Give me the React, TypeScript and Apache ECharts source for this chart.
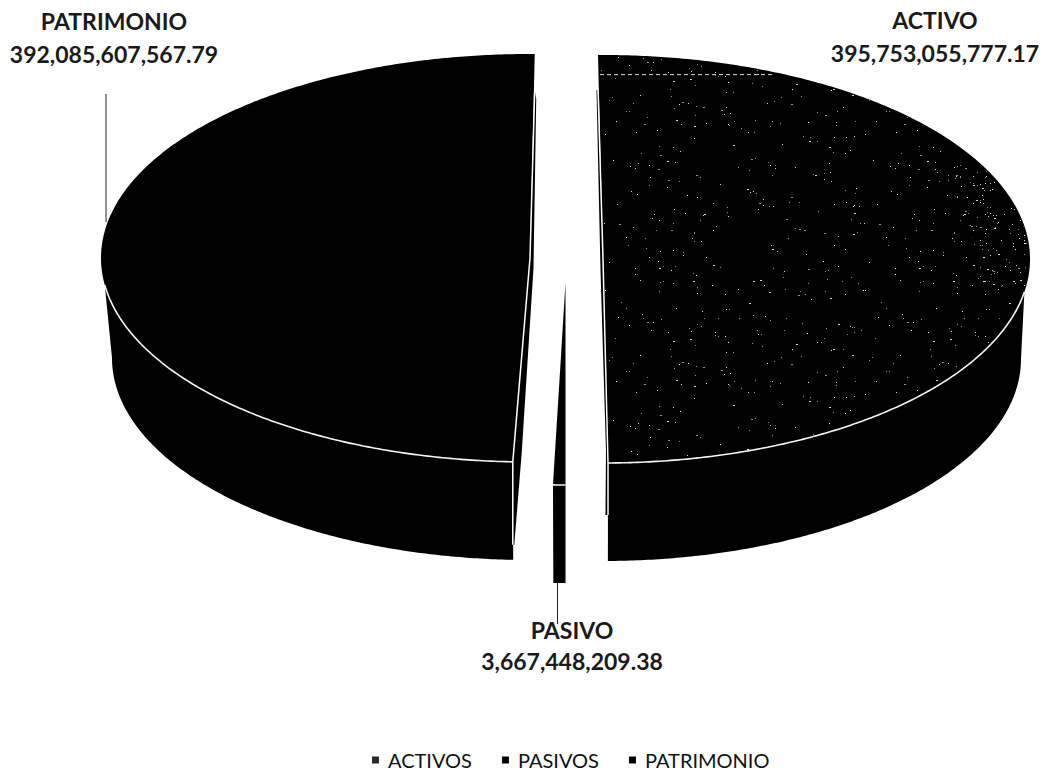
import React, { useEffect, useRef } from "react";
import * as echarts from "echarts";

const legendNames = ["ACTIVOS", "PASIVOS", "PATRIMONIO"];
const labelNames = ["ACTIVO", "PASIVO", "PATRIMONIO"];
const values = [395753055777.17, 3667448209.38, 392085607567.79];

const FONT = "Lato, Carlito, Calibri, sans-serif";
const total = values.reduce((a, b) => a + b, 0);

// Geometry of each exploded slice (layout only, sweep comes from the values)
const layouts = [
  {
    cx: 603, cy: 259, rx: 427, ry: 204, lowCy: 359, lowRx: 418, lowRy: 202, start: -0.67,
    frontAt: "end", far: 99.3, lowFar: 90, wallDepth: 52, topInset: 35,
    wall: [[-1.5, 35, "T"], [-2.5, 11, "A"], [-2, -12, "F"], [-2.5, 52, "F"], [0, 52, "F"], [0, 0, "F"], [0, 0, "A"], [0, 35, "T"]],
    labelX: 935, labelY: 20, lineGap: 33, leader: null,
  },
  {
    cx: 565.5, cy: 283, rx: 430, ry: 202, lowCy: 383, lowRx: 418, lowRy: 200, start: 180,
    frontAt: "both", far: 0, lowFar: 0, wallDepth: 0, topInset: 0, wall: null,
    labelX: 572, labelY: 630, lineGap: 31, leader: [[557.5, 583], [557.5, 624]],
  },
  {
    cx: 530, cy: 258, rx: 429, ry: 204, lowCy: 358, lowRx: 418, lowRy: 202, start: 182.3,
    frontAt: "start", far: 262.4, lowFar: 270, wallDepth: 83, topInset: 36,
    wall: [[1.5, 45, "T"], [3.5, 10, "A"], [9, -10, "F"], [1.5, 83, "F"], [0, 83, "F"], [0, 0, "F"], [0, 0, "A"], [0, 36, "T"]],
    labelX: 114, labelY: 21, lineGap: 33, leader: [[106, 94], [106, 222]],
  },
];

// Print speckle of the ACTIVOS face: an irregular repeating tile (texture only, not data)
function speckleTile(size: number, dots: number, background: string | null) {
  const c = document.createElement("canvas");
  c.width = size;
  c.height = size;
  const g = c.getContext("2d")!;
  if (background) {
    g.fillStyle = background;
    g.fillRect(0, 0, size, size);
  }
  let s = 12345;
  const next = () => {
    s = (s * 1103515245 + 12345) & 0x7fffffff;
    return (s >> 8) / (0x7fffffff >> 8);
  };
  for (let i = 0; i < dots; i++) {
    const x = Math.floor(next() * size);
    const y = Math.floor(next() * size);
    g.fillStyle = next() > 0.5 ? "#d8d8d8" : "#8f8f8f";
    g.fillRect(x, y, next() > 0.85 ? 2 : 1, 1);
  }
  return c;
}

function arc(cx: number, cy: number, rx: number, ry: number, a: number, b: number) {
  const n = Math.max(2, Math.ceil(Math.abs(b - a) * 2));
  const pts: number[][] = [];
  for (let i = 0; i <= n; i++) {
    const t = ((a + ((b - a) * i) / n) * Math.PI) / 180;
    pts.push([cx + rx * Math.sin(t), cy - ry * Math.cos(t)]);
  }
  return pts;
}

function makeRender(index: number, tile: HTMLCanvasElement, dense: HTMLCanvasElement) {
  return (_params: any, api: any) => {
    const L: any = layouts[index];
    const sweep = (api.value(0) / total) * 360;
    const start = L.start;
    const end = start + sweep;
    const face = [[L.cx, L.cy], ...arc(L.cx, L.cy, L.rx, L.ry, start, end)];

    let rimA = start, rimB = end, lowA = start, lowB = end;
    if (L.frontAt === "end") { rimA = L.far; lowA = L.lowFar; }
    if (L.frontAt === "start") { rimB = L.far; lowB = L.lowFar; }
    const rim = arc(L.cx, L.cy, L.rx, L.ry, rimA, rimB);
    const low = arc(L.cx, L.lowCy, L.lowRx, L.lowRy, lowA, lowB).reverse();

    const children: any[] = [
      { type: "polygon", shape: { points: [...rim, ...low] }, style: { fill: "#000" } },
    ];

    const frontAngle = L.frontAt === "end" ? end : start;
    const topAngle = L.frontAt === "end" ? start : end;
    const pick: any = {
      A: [L.cx, L.cy],
      F: arc(L.cx, L.cy, L.rx, L.ry, frontAngle, frontAngle)[0],
      T: arc(L.cx, L.cy, L.rx, L.ry, topAngle, topAngle)[0],
    };

    children.push({
      type: "polygon",
      shape: { points: face },
      style: index === 0 ? { fill: { image: tile, repeat: "repeat" } } : { fill: "#000" },
    });

    if (index === 0) {
      // denser stipple towards the right rim
      const outer = arc(L.cx, L.cy, L.rx - 1, L.ry - 1, 62, 99);
      const inner = arc(L.cx, L.cy, L.rx - 55, L.ry - 8, 62, 99).reverse();
      children.push({
        type: "polygon",
        shape: { points: [...outer, ...inner] },
        style: { fill: { image: dense, repeat: "repeat" } },
      });
    }

    if (L.wall) {
      const pts = L.wall.map(([dx, dy, k]: any) => [pick[k][0] + dx, pick[k][1] + dy]);
      children.push({ type: "polygon", shape: { points: pts }, style: { fill: "#000" } });
      const edge = L.wall.slice(-3).map(([dx, dy, k]: any) => [pick[k][0] + dx, pick[k][1] + dy]);
      const foot = [pick.F[0], pick.F[1] + L.wallDepth];
      children.push({
        type: "polyline",
        shape: { points: [foot, ...edge] },
        style: { fill: "none", stroke: "#fff", lineWidth: 1.5 },
      });
    }

    children.push({
      type: "polyline",
      shape: { points: rim },
      style: { fill: "none", stroke: "#f4f4f4", lineWidth: 1.6 },
    });

    if (index === 0) {
      const streak = arc(L.cx, L.cy, L.rx, L.ry, 24, 24)[0];
      children.push({
        type: "line",
        shape: { x1: pick.T[0] + 2, y1: streak[1] + 2, x2: streak[0] - 2, y2: streak[1] + 2 },
        style: { stroke: "#ddd", lineWidth: 1, lineDash: [4, 3] },
      });
    }

    if (L.leader) {
      children.push({
        type: "line",
        shape: { x1: L.leader[0][0], y1: L.leader[0][1], x2: L.leader[1][0], y2: L.leader[1][1] },
        style: { stroke: "#222", lineWidth: 1 },
      });
    }

    const text = (t: string, y: number) => ({
      type: "text",
      style: {
        text: t, x: L.labelX, y, fill: "#1a1a1a", fontFamily: FONT, fontWeight: "bold", fontSize: 23,
        textAlign: "center", textVerticalAlign: "middle",
      },
    });
    children.push(text(labelNames[index], L.labelY));
    children.push(
      text(
        api.value(0).toLocaleString("en-US", { minimumFractionDigits: 2, maximumFractionDigits: 2 }),
        L.labelY + L.lineGap
      )
    );
    return { type: "group", children };
  };
}

export default function App() {
  const ref = useRef<HTMLDivElement>(null);
  useEffect(() => {
    const chart = echarts.init(ref.current!, null, { renderer: "svg" });
    const tile = speckleTile(260, 300, "#000");
    const dense = speckleTile(120, 260, null);
    const order = [2, 0, 1];
    chart.setOption({
      animation: false,
      backgroundColor: "#fff",
      legend: {
        data: legendNames,
        left: 372,
        top: 750,
        icon: "rect",
        itemWidth: 7,
        itemHeight: 7,
        itemGap: 30,
        padding: 0,
        textStyle: { fontFamily: FONT, fontSize: 20, color: "#111", padding: [0, 0, 0, 4] },
      },
      series: order.map((i) => ({
        type: "custom",
        name: legendNames[i],
        coordinateSystem: "none",
        silent: true,
        itemStyle: { color: i === 0 ? "#2a2a2a" : "#000" },
        data: [values[i]],
        renderItem: makeRender(i, tile, dense),
      })),
    });
    return () => chart.dispose();
  }, []);
  return (
    <div
      ref={ref}
      style={{ position: "absolute", left: 0, top: 0, width: 1044, height: 772 }}
    />
  );
}
